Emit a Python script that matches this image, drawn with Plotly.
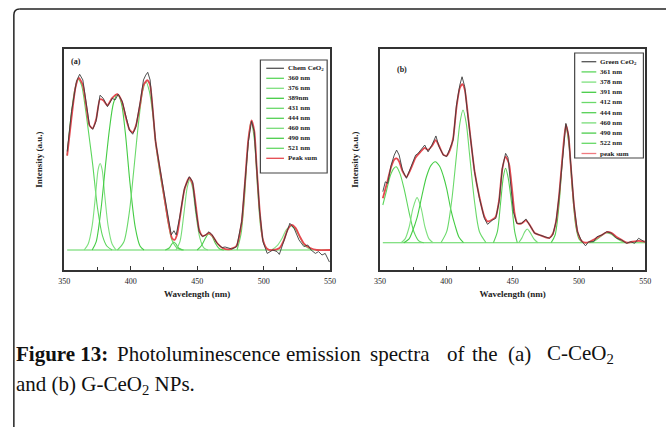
import plotly.graph_objects as go

W, H = 672, 427

# ---------------- Panel (a): Chem CeO2 ----------------
A_WL = [352.2, 355.5, 359.2, 361.6, 364.0, 366.5, 369.0, 371.4, 373.9, 376.9, 379.3, 382.5, 384.5, 386.2,
        388.2, 390.6, 393.6, 396.1, 399.0, 401.5, 403.9, 407.2, 409.6, 411.3, 412.8, 414.6, 416.3, 418.7,
        422.0, 425.6, 428.6, 430.5, 432.5, 434.2, 436.7, 440.4, 444.1, 446.6, 449.0, 451.5, 454.0, 456.4,
        458.9, 461.3, 465.0, 468.7, 471.0, 473.7, 476.1, 479.8, 483.5, 486.0, 488.5, 490.9, 492.9, 494.6,
        497.0, 499.5, 502.7, 506.9, 510.1, 511.8, 515.0, 518.0, 519.7, 522.9, 526.6, 530.3, 533.2, 535.7,
        538.9, 541.3, 543.9, 546.3, 548.0, 549.5]
A_INT = [0.49, 0.69, 0.84, 0.874, 0.846, 0.74, 0.62, 0.60, 0.64, 0.77, 0.755, 0.713, 0.74, 0.755,
         0.746, 0.775, 0.74, 0.67, 0.597, 0.576, 0.613, 0.738, 0.846, 0.87, 0.884, 0.846, 0.72, 0.54,
         0.406, 0.257, 0.141, 0.075, 0.096, 0.075, 0.158, 0.307, 0.365, 0.34, 0.20, 0.091, 0.066, 0.075,
         0.091, 0.075, 0.033, 0.012, 0.015, 0.008, 0.005, 0.017, 0.141, 0.34, 0.54, 0.64, 0.59, 0.423,
         0.19, 0.041, -0.017, 0.0, -0.008, -0.022, 0.041, 0.108, 0.133, 0.108, 0.05, 0.017, 0.025, 0.0,
         -0.017, -0.008, -0.025, -0.017, -0.045, -0.06]

A_SUM_WL = [352.2, 355.5, 358.5, 361.0, 364.0, 366.5, 369.0, 371.4, 374.0, 376.9, 379.3, 382.5, 386.0,
            390.0, 393.6, 396.1, 399.0, 401.5, 404.0, 407.2, 409.6, 412.5, 414.6, 416.3, 418.7, 422.0,
            425.6, 428.6, 431.0, 433.0, 435.0, 437.0, 440.4, 444.1, 446.6, 449.0, 451.5, 454.0, 456.5,
            459.0, 461.5, 465.0, 469.0, 474.0, 479.5, 483.5, 486.0, 488.5, 490.9, 493.0, 494.6, 497.0,
            499.5, 502.7, 507.0, 512.0, 515.0, 518.0, 521.0, 524.0, 527.0, 530.5, 535.0, 540.0, 550.0]
A_SUM = [0.47, 0.66, 0.81, 0.856, 0.82, 0.72, 0.62, 0.605, 0.65, 0.75, 0.745, 0.72, 0.755,
         0.775, 0.735, 0.665, 0.60, 0.585, 0.62, 0.73, 0.82, 0.845, 0.82, 0.72, 0.54, 0.40,
         0.25, 0.13, 0.06, 0.05, 0.08, 0.16, 0.30, 0.36, 0.33, 0.22, 0.10, 0.07, 0.075,
         0.085, 0.07, 0.035, 0.01, 0.003, 0.02, 0.14, 0.34, 0.55, 0.645, 0.59, 0.43, 0.20,
         0.05, 0.005, 0.0, 0.01, 0.045, 0.10, 0.125, 0.11, 0.07, 0.03, 0.01, 0.0, 0.0]

# fitted gaussian components (a), read point by point
A_G1_X = [352.2, 355, 358, 360.5, 363, 366, 369, 371.5, 375, 378.8, 382, 386]
A_G1_Y = [0.47, 0.66, 0.80, 0.85, 0.82, 0.70, 0.55, 0.42, 0.21, 0.07, 0.02, 0.0]
A_G2_X = [365, 368, 371, 373.5, 375.5, 377, 378.5, 380.5, 383, 386, 389]
A_G2_Y = [0.0, 0.03, 0.12, 0.27, 0.40, 0.43, 0.40, 0.27, 0.12, 0.03, 0.0]
A_G3_X = [371, 374, 377.6, 381, 384, 387, 390, 393, 396, 399.5, 403.5, 407, 410]
A_G3_Y = [0.0, 0.04, 0.20, 0.42, 0.60, 0.73, 0.775, 0.73, 0.58, 0.33, 0.11, 0.02, 0.0]
A_G4_X = [390, 394.8, 399, 402.2, 406, 409, 411.5, 414, 416.5, 419, 422, 425.6, 428.6, 431, 435, 440]
A_G4_Y = [0.0, 0.04, 0.19, 0.39, 0.64, 0.79, 0.837, 0.79, 0.68, 0.52, 0.38, 0.24, 0.12, 0.05, 0.01, 0.0]
A_G5_X = [426, 429, 431, 432.5, 434, 436, 439]
A_G5_Y = [0.0, 0.01, 0.03, 0.04, 0.03, 0.01, 0.0]
A_G6_X = [434, 437, 440, 442.5, 444.5, 446.5, 449, 452, 455, 458]
A_G6_Y = [0.0, 0.04, 0.18, 0.31, 0.35, 0.31, 0.18, 0.06, 0.01, 0.0]
A_G7_X = [450, 453, 455.5, 458.5, 461, 464, 467, 470]
A_G7_Y = [0.0, 0.02, 0.05, 0.08, 0.07, 0.03, 0.005, 0.0]
A_G8_X = [480, 483, 485.5, 488, 490.5, 493, 495.5, 498, 501, 504]
A_G8_Y = [0.0, 0.08, 0.25, 0.50, 0.64, 0.55, 0.30, 0.10, 0.02, 0.0]
A_G9_X = [506, 510, 514, 517, 520.5, 524, 527.5, 531, 536]
A_G9_Y = [0.0, 0.02, 0.06, 0.10, 0.12, 0.10, 0.06, 0.02, 0.0]

A_LEGEND = ["Chem CeO<sub>2</sub>", "360 nm", "376 nm", "389nm", "431 nm", "444 nm",
            "460 nm", "490 nm", "521 nm", "Peak sum"]

# ---------------- Panel (b): Green CeO2 ----------------
B_WL = [352.2, 354.1, 355.9, 358.4, 360.8, 362.6, 364.5, 367.0, 370.0, 373.2, 376.9, 378.5, 380.6, 383.8,
        386.3, 389.2, 392.2, 394.6, 397.8, 400.3, 402.8, 405.2, 407.7, 410.2, 411.9, 413.9, 415.9, 418.8,
        421.3, 425.0, 428.7, 431.1, 434.8, 437.3, 439.8, 442.2, 444.7, 446.5, 448.1, 450.6, 453.1, 456.8,
        460.0, 462.9, 466.6, 470.3, 474.0, 477.7, 480.2, 482.7, 485.1, 487.6, 490.1, 492.1, 493.8, 496.2,
        498.8, 501.9, 504.9, 507.3, 511.0, 513.5, 517.2, 520.9, 524.6, 528.3, 532.0, 535.7, 539.0, 541.9,
        544.9, 547.3, 549.3]
B_INT = [0.264, 0.315, 0.307, 0.40, 0.453, 0.479, 0.453, 0.376, 0.333, 0.385, 0.453, 0.46, 0.479, 0.505,
         0.47, 0.505, 0.552, 0.496, 0.453, 0.445, 0.488, 0.531, 0.712, 0.815, 0.858, 0.807, 0.677, 0.505,
         0.367, 0.23, 0.126, 0.095, 0.117, 0.126, 0.212, 0.385, 0.462, 0.44, 0.315, 0.16, 0.10, 0.10,
         0.123, 0.092, 0.049, 0.04, 0.031, 0.023, 0.04, 0.109, 0.247, 0.453, 0.617, 0.557, 0.402, 0.195,
         0.057, 0.009, -0.016, 0.005, 0.005, 0.031, 0.04, 0.057, 0.049, 0.023, 0.014, -0.003, 0.005, -0.003,
         0.023, 0.014, 0.005]

B_SUM_WL = [352.2, 355.0, 358.4, 360.8, 362.6, 364.5, 367.0, 370.0, 373.2, 376.9, 380.6, 383.8, 386.3,
            389.2, 392.0, 394.6, 397.8, 400.3, 402.8, 405.2, 407.7, 410.2, 412.2, 414.0, 416.0, 418.8,
            421.3, 425.0, 428.7, 431.1, 434.8, 437.3, 439.8, 442.2, 444.7, 447.2, 449.5, 451.5, 453.5,
            456.8, 460.0, 463.0, 466.6, 470.3, 474.0, 477.7, 480.2, 482.7, 485.1, 487.6, 490.1, 492.1,
            493.8, 496.2, 498.8, 501.9, 505.0, 508.0, 513.5, 517.2, 520.9, 524.6, 528.3, 532.0, 536.0,
            540.0, 545.0, 550.0]
B_SUM = [0.23, 0.30, 0.39, 0.43, 0.436, 0.42, 0.37, 0.34, 0.38, 0.44, 0.47, 0.49, 0.48,
         0.50, 0.53, 0.50, 0.455, 0.45, 0.48, 0.54, 0.70, 0.80, 0.82, 0.79, 0.68, 0.51,
         0.37, 0.235, 0.135, 0.11, 0.12, 0.135, 0.22, 0.38, 0.445, 0.41, 0.28, 0.15, 0.10,
         0.10, 0.115, 0.09, 0.05, 0.04, 0.03, 0.025, 0.045, 0.11, 0.25, 0.45, 0.61, 0.55,
         0.40, 0.195, 0.06, 0.01, 0.0, 0.005, 0.025, 0.04, 0.055, 0.05, 0.03, 0.015, 0.0,
         0.005, 0.01, 0.005]

B_G1_X = [352.2, 355, 358, 360.5, 362.3, 365, 368.2, 371.9, 375.6, 379.3, 383]
B_G1_Y = [0.195, 0.27, 0.35, 0.385, 0.393, 0.36, 0.28, 0.16, 0.057, 0.01, 0.0]
B_G2_X = [366, 369, 372, 375, 378, 381, 384, 387, 390]
B_G2_Y = [0.0, 0.02, 0.08, 0.18, 0.233, 0.18, 0.08, 0.02, 0.0]
B_G3_X = [368, 372, 374.4, 378, 381.8, 385, 388.5, 391.7, 395, 398, 400.3, 403.5, 406.5, 409.5, 413]
B_G3_Y = [0.0, 0.02, 0.057, 0.13, 0.247, 0.34, 0.40, 0.419, 0.395, 0.34, 0.28, 0.17, 0.092, 0.03, 0.0]
B_G4_X = [396, 400.3, 404, 407.7, 410.3, 412.6, 415, 417.6, 421.3, 425, 430]
B_G4_Y = [0.0, 0.057, 0.212, 0.453, 0.62, 0.686, 0.62, 0.453, 0.212, 0.057, 0.0]
B_G5_X = [435.5, 438.5, 441, 443, 444.7, 446.5, 449.4, 451.5, 453.5]
B_G5_Y = [0.0, 0.057, 0.212, 0.34, 0.385, 0.34, 0.195, 0.06, 0.0]
B_G6_X = [454.5, 457, 459, 461, 463, 466, 469]
B_G6_Y = [0.0, 0.025, 0.055, 0.071, 0.055, 0.02, 0.0]
B_G7_X = [479, 482, 485, 487.6, 490.1, 492.5, 495, 497.5, 500, 503]
B_G7_Y = [0.0, 0.04, 0.20, 0.44, 0.60, 0.50, 0.27, 0.09, 0.02, 0.0]
B_G8_X = [508, 512, 516, 520, 524, 528, 532, 537]
B_G8_Y = [0.0, 0.01, 0.03, 0.05, 0.045, 0.025, 0.008, 0.0]

B_LEGEND = ["Green CeO<sub>2</sub>", "361 nm", "378 nm", "391 nm", "412 nm", "444 nm",
            "460 nm", "490 nm", "522 nm", "peak sum"]

BASE_X = [352.2, 550]
BASE_Y = [0.0, 0.0]

X_TICKS = [350, 400, 450, 500, 550]
X_TICK_TEXT = ["350", "400", "450", "500", "550"]

# caption (line 1 is justified in the reference: each word starts at its own slot)
CAPTION_1 = ["<b>Figure 13:</b>", "Photoluminescence", "emission", "spectra", "of", "the", "(a)",
             "C-CeO<sub>2</sub>"]
CAPTION_1_X = [8, 111, 283, 369, 447, 472, 509, 549]
CAPTION_2 = "and (b) G-CeO<sub>2</sub> NPs."

GREENS = ["#5cd65c", "#7fe07f", "#45cc45", "#6ad96a", "#55d055", "#78dc78", "#4ccd4c", "#66d866", "#80e080"]
BLACK = "#3c3c3c"
RED = "#e4484f"
AX = "#333333"
SERIF = "Liberation Serif"

fig = go.Figure()

def add_panel(xa, ya, wl, inten, swl, ssum, comps):
    fig.add_trace(go.Scatter(x=BASE_X, y=BASE_Y, mode="lines", xaxis=xa, yaxis=ya,
                             line=dict(color=GREENS[0], width=1.2), showlegend=False, hoverinfo="skip"))
    for i, (cx, cy) in enumerate(comps):
        fig.add_trace(go.Scatter(x=cx, y=cy, mode="lines", xaxis=xa, yaxis=ya,
                                 line=dict(color=GREENS[i % len(GREENS)], width=1.1, shape="spline", smoothing=0.8),
                                 showlegend=False))
    fig.add_trace(go.Scatter(x=swl, y=ssum, mode="lines", xaxis=xa, yaxis=ya,
                             line=dict(color=RED, width=1.8, shape="spline", smoothing=0.6), showlegend=False))
    fig.add_trace(go.Scatter(x=wl, y=inten, mode="lines", xaxis=xa, yaxis=ya,
                             line=dict(color=BLACK, width=0.9), showlegend=False))

add_panel("x", "y", A_WL, A_INT, A_SUM_WL, A_SUM,
          [(A_G1_X, A_G1_Y), (A_G2_X, A_G2_Y), (A_G3_X, A_G3_Y), (A_G4_X, A_G4_Y), (A_G5_X, A_G5_Y),
           (A_G6_X, A_G6_Y), (A_G7_X, A_G7_Y), (A_G8_X, A_G8_Y), (A_G9_X, A_G9_Y)])
add_panel("x2", "y2", B_WL, B_INT, B_SUM_WL, B_SUM,
          [(B_G1_X, B_G1_Y), (B_G2_X, B_G2_Y), (B_G3_X, B_G3_Y), (B_G4_X, B_G4_Y),
           (B_G5_X, B_G5_Y), (B_G6_X, B_G6_Y), (B_G7_X, B_G7_Y), (B_G8_X, B_G8_Y)])

def px(x):
    return x / W

def py(y):
    return 1 - y / H

xcommon = dict(range=[350, 550], tickvals=X_TICKS, ticktext=X_TICK_TEXT, ticks="inside", ticklen=4,
               tickwidth=1, tickcolor=AX, showline=True, linecolor=AX, linewidth=1.5, mirror=True,
               showgrid=False, zeroline=False, ticklabelstandoff=3,
               minor=dict(dtick=25, tick0=350, ticks="inside", ticklen=3, tickcolor=AX, showgrid=False),
               tickfont=dict(family=SERIF, size=8, color="#222"),
               title=dict(text="<b>Wavelength (nm)</b>", font=dict(family=SERIF, size=9, color="#222"),
                          standoff=5))
ycommon = dict(showticklabels=False, ticks="", showline=True, linecolor=AX, linewidth=1.5, mirror=True,
               showgrid=False, zeroline=False,
               title=dict(text="<b>Intensity (a.u.)</b>", font=dict(family=SERIF, size=9, color="#222"),
                          standoff=18))

ydom = [py(270), py(49.3)]
fig.update_layout(
    width=W, height=H, margin=dict(l=0, r=0, t=0, b=0),
    paper_bgcolor="white", plot_bgcolor="white", showlegend=False,
    xaxis=dict(domain=[px(59.3), px(330)], anchor="y", **xcommon),
    yaxis=dict(domain=ydom, anchor="x", range=[-0.0995, 0.9985], **ycommon),
    xaxis2=dict(domain=[px(380.7), px(651)], anchor="y2", **xcommon),
    yaxis2=dict(domain=ydom, anchor="x2", range=[-0.141, 1.0], **ycommon),
)

shapes = []
annotations = []

# outer frame with rounded top-left corner
FR = dict(color="#222", width=1.5)
shapes.append(dict(type="line", xref="paper", yref="paper", x0=px(8), x1=px(8), y0=py(427), y1=py(15), line=FR))
shapes.append(dict(type="line", xref="paper", yref="paper", x0=px(14), x1=px(672), y0=py(9), y1=py(9), line=FR))
shapes.append(dict(type="path", xref="paper", yref="paper",
                   path=f"M {px(8)},{py(15)} Q {px(8)},{py(9)} {px(14)},{py(9)}", line=FR))

def legend(labels, x0, x1, y0, y1, lx0, lx1, tx, first_y, step, colors):
    shapes.append(dict(type="rect", xref="paper", yref="paper", x0=px(x0), x1=px(x1), y0=py(y1), y1=py(y0),
                       line=dict(color="#444", width=1.2), fillcolor="white"))
    for i, lab in enumerate(labels):
        yy = first_y + i * step
        shapes.append(dict(type="line", xref="paper", yref="paper", x0=px(lx0), x1=px(lx1), y0=py(yy), y1=py(yy),
                           line=dict(color=colors[i], width=1.3)))
        annotations.append(dict(text=f"<b>{lab}</b>", xref="paper", yref="paper", x=px(tx), y=py(yy),
                                xanchor="left", yanchor="middle", showarrow=False,
                                font=dict(family=SERIF, size=7, color="#222")))

legend(A_LEGEND, 259, 327, 60, 173, 265, 283, 285, 68.3, 10.0, ["#555555"] + GREENS[:8] + [RED])
legend(B_LEGEND, 579, 649, 53, 158, 586, 601, 603, 61.7, 10.2, ["#555555"] + GREENS[:8] + ["#f07a80"])

annotations.append(dict(text="<b>(a)</b>", xref="paper", yref="paper", x=px(64), y=py(62), xanchor="left",
                        yanchor="middle", showarrow=False, font=dict(family=SERIF, size=8, color="#222")))
annotations.append(dict(text="<b>(b)</b>", xref="paper", yref="paper", x=px(396), y=py(70), xanchor="left",
                        yanchor="middle", showarrow=False, font=dict(family=SERIF, size=8, color="#222")))

for word, wx in zip(CAPTION_1, CAPTION_1_X):
    annotations.append(dict(text=word, xref="paper", yref="paper", x=px(wx), y=py(354), xanchor="left",
                            yanchor="middle", showarrow=False, font=dict(family=SERIF, size=21, color="#111")))
annotations.append(dict(text=CAPTION_2, xref="paper", yref="paper", x=px(8), y=py(385), xanchor="left",
                        yanchor="middle", showarrow=False, font=dict(family=SERIF, size=21, color="#111")))

fig.update_layout(shapes=shapes, annotations=annotations)
fig.write_html("out.html")
